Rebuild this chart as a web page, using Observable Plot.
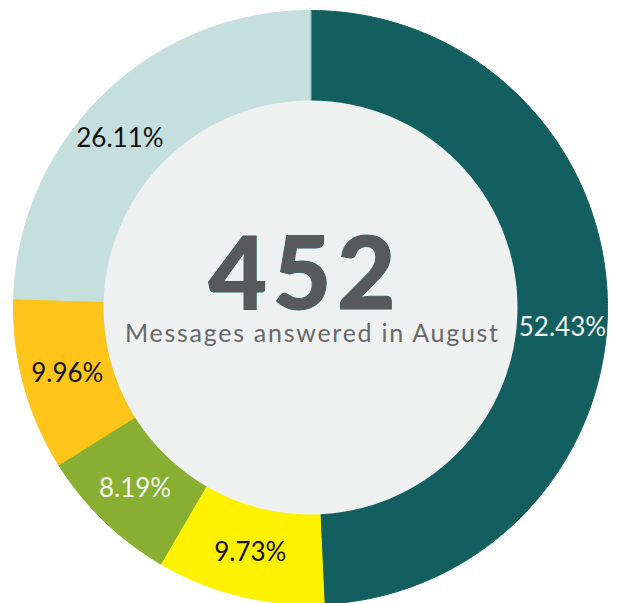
<!DOCTYPE html>
<html><head><meta charset="utf-8">
<script src="https://cdn.jsdelivr.net/npm/d3@7"></script>
<script src="https://cdn.jsdelivr.net/npm/@observablehq/plot@0.6"></script>
<style>
html,body{margin:0;padding:0;background:#fff;}
#chart svg{display:block;}
</style></head><body><div id="chart"></div>
<script>
// ---- data ----
const categories = ["Segment 1","Segment 2","Segment 3","Segment 4","Segment 5"];
const values = [52.43, 9.73, 8.19, 9.96, 26.11];
const labels = ["52.43%","9.73%","8.19%","9.96%","26.11%"];
const colors = ["#135f5f","#fff200","#88af31","#fdc41a","#c5dfdf"];
const labelColors = ["#f4f4f4","#111111","#f4f4f4","#111111","#111111"];
const totalMessages = 452;
const centerCaption = "Messages answered in August";

// ---- layout ----
const W = 617, H = 603, cx = 310, cy = 307, R = 297, r0 = 207;

const ctx = document.createElement("canvas").getContext("2d");
function fitSpacing(text, font, target) {
  ctx.font = font;
  const w = ctx.measureText(text).width;
  return (target - w) / Math.max(1, text.length - 1);
}

const data = categories.map((c, i) => ({category: c, value: values[i], label: labels[i], color: colors[i], labelColor: labelColors[i]}));
const arcs = d3.pie().sort(null).value(d => d.value)(data);

const pts = [];
arcs.forEach(a => {
  const n = Math.max(8, Math.ceil((a.endAngle - a.startAngle) / 0.01));
  pts.push({key: a.data.category, color: a.data.color, x: 0, y: 0});
  for (let k = 0; k <= n; k++) {
    const t = a.startAngle + (a.endAngle - a.startAngle) * k / n;
    pts.push({key: a.data.category, color: a.data.color, x: R * Math.sin(t), y: R * Math.cos(t)});
  }
});
const rm = (R + r0) / 2;
const labelPts = arcs.map((a, i) => {
  const m = (a.startAngle + a.endAngle) / 2;
  return {i, x: rm * Math.sin(m), y: rm * Math.cos(m), label: a.data.label, labelColor: a.data.labelColor};
});

const labelStyle = {x: "x", y: "y", text: "label", fill: "labelColor", fontSize: 26, fontFamily: "Lato", fontWeight: 400};

const bigFont = "900 101px Lato";
const bigLS = fitSpacing(String(totalMessages), bigFont, 187);
const capFont = "400 25px Lato";
const capLS = fitSpacing(centerCaption, capFont, 374);

const chart = Plot.plot({
  width: W, height: H,
  margin: 0,
  x: {domain: [-cx, W - cx], range: [0, W], axis: null},
  y: {domain: [-(H - cy), cy], range: [H, 0], axis: null},
  color: {type: "identity"},
  marks: [
    Plot.line(pts, {x: "x", y: "y", z: "key", fill: "color", stroke: "color", strokeWidth: 1, curve: "linear-closed"}),
    Plot.dot([{x: 0, y: 0}], {x: "x", y: "y", r: r0, fill: "#eff1f0", stroke: "none"}),
    Plot.text(labelPts.filter(d => d.i === 0), {...labelStyle, dy: 26}),
    Plot.text(labelPts.filter(d => d.i > 0 && d.i < 4), labelStyle),
    Plot.text(labelPts.filter(d => d.i === 4), {...labelStyle, dx: -15, dy: 12}),
    Plot.text([totalMessages], {x: () => 0, y: () => -1, text: d => String(d), lineAnchor: "bottom", fontSize: 101, fontFamily: "Lato", fontWeight: 900, fill: "#58595b", stroke: "#1e6461", strokeWidth: 1, dx: -8.5 + bigLS / 2}),
    Plot.text([centerCaption], {x: () => 0, y: () => -34, text: d => d, lineAnchor: "bottom", fontSize: 25, fontFamily: "Lato", fontWeight: 400, fill: "#67686a", dx: 1 + capLS / 2})
  ]
});
d3.select(chart).selectAll("text").each(function() {
  const t = this.textContent;
  if (t === String(totalMessages)) this.setAttribute("letter-spacing", bigLS);
  else if (t === centerCaption) this.setAttribute("letter-spacing", capLS);
});
document.getElementById("chart").appendChild(chart);
</script>
</body></html>
